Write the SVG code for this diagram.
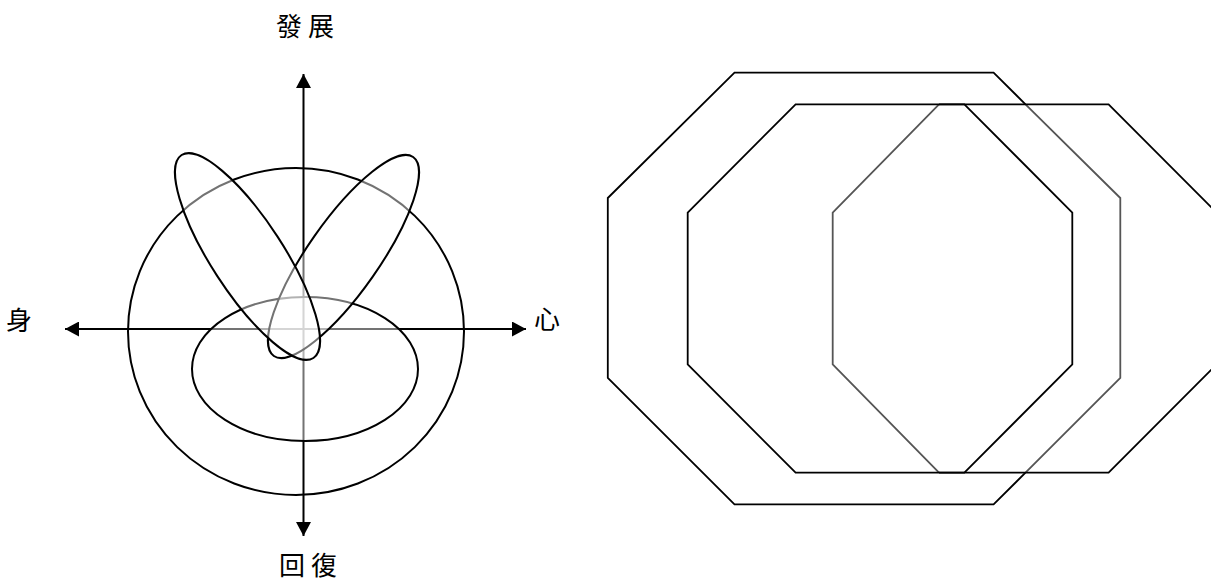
<svg xmlns="http://www.w3.org/2000/svg" width="1211" height="580" viewBox="0 0 1211 580">
<style>
.lbl{font-family:"Noto Sans CJK TC","Noto Sans CJK SC",sans-serif;font-size:26px;fill:#000}
.curve{stroke:#000;stroke-width:2}
.veil{fill:#fff;fill-opacity:0.45}
.axis{stroke:#000;stroke-width:2;fill:none}
.oct{fill:none;stroke:#000;stroke-width:1.8;stroke-linejoin:miter}
.octg{fill:none;stroke:#555;stroke-width:1.8}
</style>
<defs>
<marker id="arr" viewBox="0 0 14 15" refX="14" refY="7.5" markerWidth="14" markerHeight="15" markerUnits="userSpaceOnUse" orient="auto-start-reverse">
<path d="M0,0 L14,7.5 L0,15 Z" fill="#000"/>
</marker>
</defs>
<rect width="1211" height="580" fill="#fff"/>
<g id="outer-ellipse"><ellipse cx="296" cy="331.5" rx="168" ry="163.5" fill="none" class="curve"/></g>
<g id="connectors">
<line class="axis" x1="65" y1="329" x2="526" y2="329" marker-start="url(#arr)" marker-end="url(#arr)"/>
<line class="axis" x1="303.5" y1="74" x2="303.5" y2="536" marker-start="url(#arr)" marker-end="url(#arr)"/>
</g>
<g id="inner-ellipse"><ellipse cx="305" cy="369" rx="113" ry="72" class="curve veil"/></g>
<g id="petal-right"><ellipse cx="0" cy="0" rx="121.4" ry="35.5" class="curve veil" transform="translate(343.5 256.5) rotate(-55)"/></g>
<g id="petal-left"><ellipse cx="0" cy="0" rx="121" ry="36" class="curve veil" transform="translate(247.5 256.5) rotate(57)"/></g>
<g id="label-top"><text class="lbl" x="276" y="36" letter-spacing="6">發展</text></g>
<g id="label-bottom"><text class="lbl" x="279" y="575" letter-spacing="6">回復</text></g>
<g id="label-left"><text class="lbl" x="6" y="330">身</text></g>
<g id="label-right"><text class="lbl" x="534" y="329">心</text></g>
<g id="octagon-a">
<polyline class="oct" points="1025.5,104.3 993.6,72.7 734.5,72.7 607.8,198 607.8,378 734.5,504.3 993.6,504.3 1025.5,472.7"/>
<polyline class="octg" points="1025.5,104.3 1120.3,198 1120.3,378 1025.5,472.7"/>
</g>
<g id="octagon-c">
<polyline class="octg" points="939,104.3 832.7,212.7 832.7,364.3 939,472.7"/>
<polyline class="oct" points="939,104.3 964.4,104.3 1072.3,212.7 1072.3,364.3 964.4,472.7 939,472.7"/>
</g>
<g id="octagon-b">
<polygon class="oct" points="795.6,104.3 1108.6,104.3 1216.6,212.7 1216.6,364.3 1108.6,472.7 795.6,472.7 687.7,364.3 687.7,212.7"/>
</g>
</svg>
